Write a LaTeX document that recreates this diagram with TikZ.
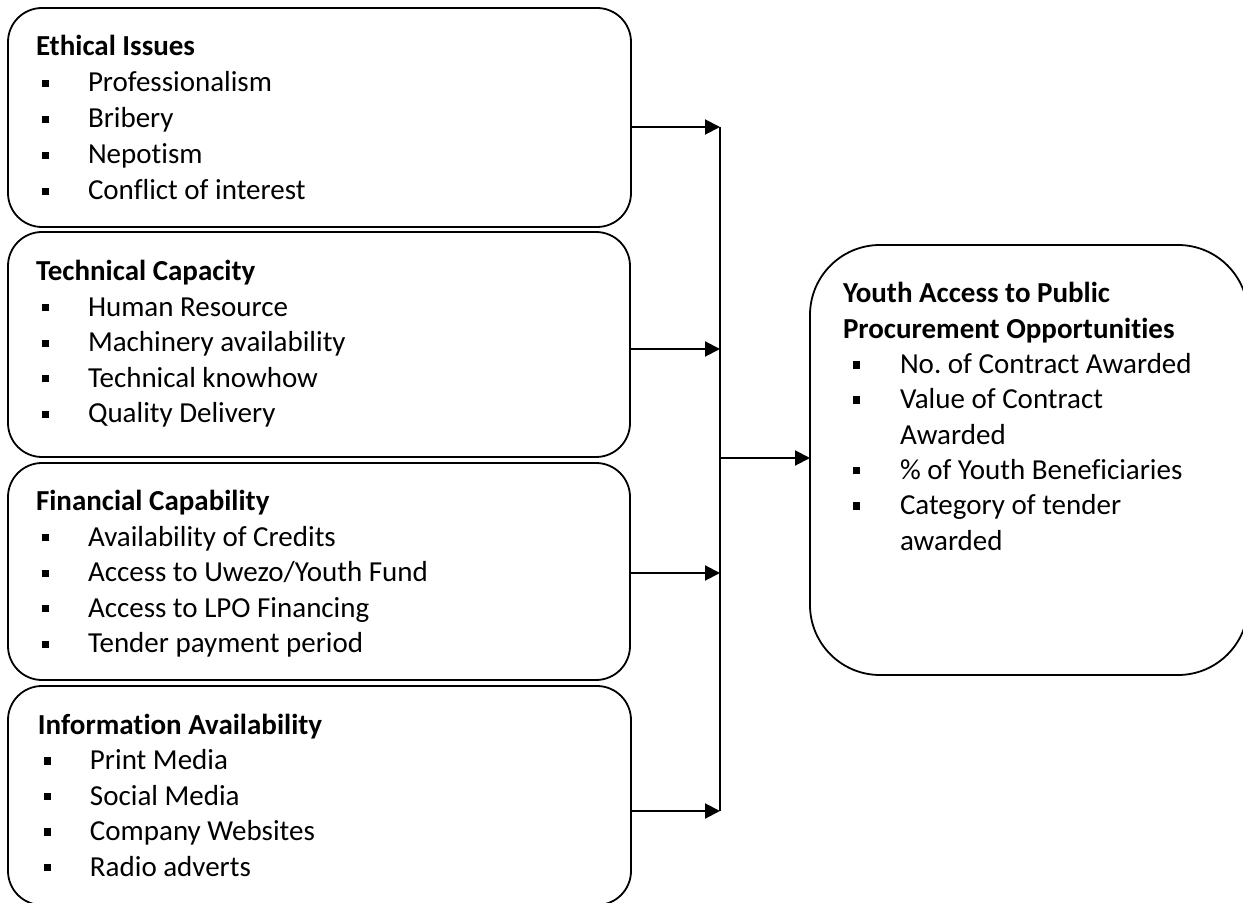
\documentclass[tikz,border=0pt]{standalone}
\usepackage{fontspec}
\setmainfont{Carlito}[Ligatures=NoCommon]
\usetikzlibrary{arrows.meta}
\frenchspacing
\newcommand{\lbul}{\makebox[26pt][l]{\hspace{3pt}\rule[2.5pt]{3.7pt}{3.7pt}}}
\newcommand{\rbul}{\makebox[28.5pt][l]{\hspace{5pt}\rule[2.5pt]{3.7pt}{3.7pt}}}
\newcommand{\boxtext}[2][18pt]{\parbox[t]{300pt}{\fontsize{14.5pt}{#1}\selectfont\frenchspacing\raggedright #2}}
\tikzset{
  panel/.style={draw, line width=0.9pt, rounded corners=17pt, rectangle, inner sep=0pt, outer sep=0pt, anchor=north west},
  outpanel/.style={draw, line width=0.9pt, rounded corners=35pt, rectangle, inner sep=0pt, outer sep=0pt, anchor=north west},
  label/.style={inner sep=0pt, outer sep=0pt, anchor=base west},
  conn/.style={line width=1pt, -{Triangle[length=7.5pt,width=7.5pt]}},
  trunk/.style={line width=1pt}
}
\begin{document}
\begin{tikzpicture}[x=0.5pt,y=-0.5pt]
\useasboundingbox (0,0) rectangle (1243,903);
% boxes
\node[panel, minimum width=311.5pt, minimum height=109.5pt] (b1) at (8,8) {};
\node[panel, minimum width=311pt, minimum height=112.5pt] (b2) at (8,232) {};
\node[panel, minimum width=311pt, minimum height=108.5pt] (b3) at (8,463) {};
\node[panel, minimum width=311.5pt, minimum height=109.5pt] (b4) at (8,686) {};
\node[outpanel, minimum width=219pt, minimum height=215pt] (out) at (810,245) {};
% texts
\node[label] (t1) at (36,56) {\boxtext{\textbf{Ethical Issues}\\
\lbul Professionalism\\ \lbul Bribery\\ \lbul Nepotism\\ \lbul Conflict of interest}};
\node[label] (t2) at (36,281) {\boxtext[17.75pt]{\textbf{Technical Capacity}\\
\lbul Human Resource\\ \lbul Machinery availability\\ \lbul Technical knowhow\\ \lbul Quality Delivery}};
\node[label] (t3) at (36,511) {\boxtext[17.75pt]{\textbf{Financial Capability}\\
\lbul Availability of Credits\\ \lbul Access to Uwezo/Youth Fund\\ \lbul Access to LPO Financing\\ \lbul Tender payment period}};
\node[label] (t4) at (38,734) {\boxtext[17.75pt]{\textbf{Information Availability}\\
\lbul Print Media\\ \lbul Social Media\\ \lbul Company Websites\\ \lbul Radio adverts}};
\node[label] (t5) at (843,303) {\boxtext[17.65pt]{\textbf{Youth Access to Public}\\
\textbf{Procurement Opportunities}\\
\rbul No. of Contract Awarded\\ \rbul Value of Contract\\ \hspace*{28.5pt}Awarded\\
\rbul \% of Youth Beneficiaries\\ \rbul Category of tender\\ \hspace*{28.5pt}awarded}};
% connectors
\coordinate (jtop) at (720,127);
\coordinate (j2) at (720,349);
\coordinate (jmid) at (720,458);
\coordinate (j3) at (720,573);
\coordinate (jbot) at (720,811);
\draw[trunk] (jtop) -- (jbot);
\draw[conn] (b1.east |- jtop) -- (jtop);
\draw[conn] (b2.east |- j2) -- (j2);
\draw[conn] (b3.east |- j3) -- (j3);
\draw[conn] (b4.east |- jbot) -- (jbot);
\draw[conn] (jmid) -- (out.west |- jmid);
\end{tikzpicture}
\end{document}
